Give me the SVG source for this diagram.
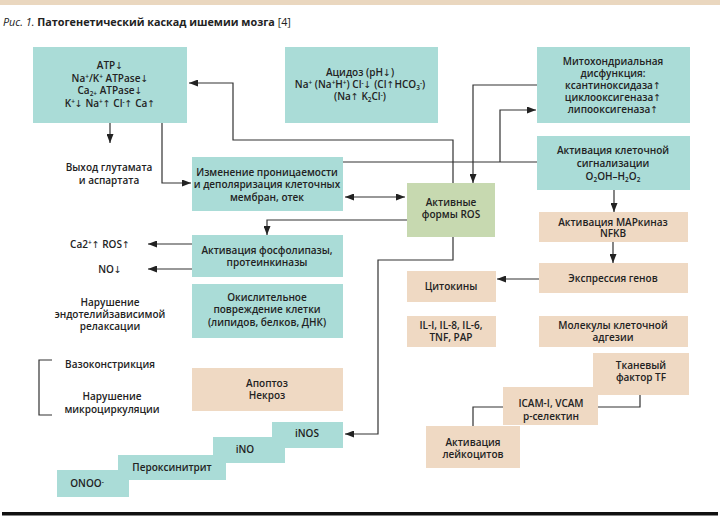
<svg xmlns="http://www.w3.org/2000/svg" width="720" height="518" viewBox="0 0 720 518">
<style>
text{font-family:"Open Sans","Noto Sans",sans-serif;font-size:10px;font-weight:600;fill:#222;text-anchor:middle}
.t{fill:#aadcd7}
.g{fill:#c7d9b0}
.b{fill:#efd9c3}
.c{fill:none;stroke:#333;stroke-width:1.2}
.s{font-size:6.5px}
.ar{font-family:"DejaVu Sans",sans-serif;font-weight:400;font-size:9.5px}
.title{text-anchor:start;font-size:10.8px}
</style>
<defs>
<marker id="a" viewBox="0 0 9 7" refX="9" refY="3.5" markerWidth="9" markerHeight="7" markerUnits="userSpaceOnUse" orient="auto-start-reverse">
<path d="M0,0 L9,3.5 L0,7 z" fill="#222"/>
</marker>
</defs>
<rect x="0" y="0" width="720" height="5" fill="#ead7bf"/>
<text class="title" x="3" y="26"><tspan font-style="italic" font-weight="400">Рис. 1.</tspan> <tspan font-weight="700">Патогенетический каскад ишемии мозга</tspan><tspan font-weight="400"> [4]</tspan></text>

<g id="connectors">
<path class="c" d="M453,183 V140 H233 V83 H189" marker-end="url(#a)"/>
<path class="c" d="M110,123 V143" marker-end="url(#a)"/>
<path class="c" d="M162,123 V183 H191" marker-end="url(#a)"/>
<path class="c" d="M345,197 H405" marker-start="url(#a)" marker-end="url(#a)"/>
<path class="c" d="M537,85 H473 V183" marker-end="url(#a)"/>
<path class="c" d="M343,162 H537"/>
<path class="c" d="M500,162 V110 H536" marker-end="url(#a)"/>
<path class="c" d="M614,190 V212" marker-end="url(#a)"/>
<path class="c" d="M613,242 V263" marker-end="url(#a)"/>
<path class="c" d="M539,279 H497" marker-end="url(#a)"/>
<path class="c" d="M407,220 H267 V235" marker-end="url(#a)"/>
<path class="c" d="M192,244 H148" marker-end="url(#a)"/>
<path class="c" d="M192,269 H148" marker-end="url(#a)"/>
<path class="c" d="M453,237 V260 H378 V434 H345" marker-end="url(#a)"/>
<path class="c" d="M640,395 V407 H598"/>
<path class="c" d="M503,407 H473 V426"/>
<path class="c" d="M52,360 H39 V415 H52"/>
</g>

<g id="atp">
<rect class="t" x="33" y="47" width="154" height="76"/>
<text x="110" y="69">ATP<tspan class="ar">↓</tspan></text>
<text x="110" y="81.5">Na<tspan class="s" baseline-shift="3">+</tspan>/K<tspan class="s" baseline-shift="3">+</tspan> ATPase<tspan class="ar">↓</tspan></text>
<text x="110" y="94">Ca<tspan class="s" baseline-shift="-2">2+</tspan> ATPase<tspan class="ar">↓</tspan></text>
<text x="110" y="106.5">K<tspan class="s" baseline-shift="3">+</tspan><tspan class="ar">↓</tspan> Na<tspan class="s" baseline-shift="3">+</tspan><tspan class="ar">↑</tspan> Cl<tspan class="s" baseline-shift="3">-</tspan><tspan class="ar">↑</tspan> Ca<tspan class="ar">↑</tspan></text>
</g>

<g id="acidosis">
<rect class="t" x="285" y="47" width="153" height="76"/>
<text x="360" y="76">Ацидоз (pH<tspan class="ar">↓</tspan>)</text>
<text x="360" y="88">Na<tspan class="s" baseline-shift="3">+</tspan> (Na<tspan class="s" baseline-shift="3">+</tspan>H<tspan class="s" baseline-shift="3">+</tspan>) Cl<tspan class="s" baseline-shift="3">-</tspan><tspan class="ar">↓</tspan> (Cl<tspan class="ar">↑</tspan>HCO<tspan class="s" baseline-shift="-2">3</tspan><tspan class="s" baseline-shift="3">-</tspan>)</text>
<text x="360" y="100">(Na<tspan class="ar">↑</tspan> K<tspan class="s" baseline-shift="-2">2</tspan>Cl<tspan class="s" baseline-shift="3">-</tspan>)</text>
</g>

<g id="mito">
<rect class="t" x="537" y="47" width="153" height="76"/>
<text x="613" y="65">Митохондриальная</text>
<text x="613" y="77">дисфункция:</text>
<text x="613" y="89">ксантиноксидаза<tspan class="ar">↑</tspan></text>
<text x="613" y="101">циклооксигеназа<tspan class="ar">↑</tspan></text>
<text x="613" y="113">липооксигеназа<tspan class="ar">↑</tspan></text>
</g>

<g id="signal">
<rect class="t" x="537" y="136" width="153" height="54"/>
<text x="613" y="154">Активация клеточной</text>
<text x="613" y="167">сигнализации</text>
<text x="613" y="180">O<tspan class="s" baseline-shift="-2">2</tspan>OH–H<tspan class="s" baseline-shift="-2">2</tspan>O<tspan class="s" baseline-shift="-2">2</tspan></text>
</g>

<g id="perm">
<rect class="t" x="192" y="157" width="151" height="54"/>
<text x="267" y="176">Изменение проницаемости</text>
<text x="267" y="188">и деполяризация клеточных</text>
<text x="267" y="201">мембран, отек</text>
</g>

<g id="ros">
<rect class="g" x="407" y="183" width="88" height="54"/>
<text x="451" y="206">Активные</text>
<text x="451" y="218">формы ROS</text>
</g>

<g id="phospho">
<rect class="t" x="192" y="235" width="151" height="42"/>
<text x="267" y="254">Активация фосфолипазы,</text>
<text x="267" y="266">протеинкиназы</text>
</g>

<g id="oxid">
<rect class="t" x="192" y="284" width="151" height="54"/>
<text x="267" y="301">Окислительное</text>
<text x="267" y="313">повреждение клетки</text>
<text x="267" y="326">(липидов, белков, ДНК)</text>
</g>

<g id="apopt">
<rect class="b" x="192" y="368" width="151" height="43"/>
<text x="267" y="387">Апоптоз</text>
<text x="267" y="399">Некроз</text>
</g>

<g id="map">
<rect class="b" x="539" y="212" width="149" height="30"/>
<text x="613" y="226">Активация MAPкиназ</text>
<text x="613" y="237">NFKB</text>
</g>

<g id="expr">
<rect class="b" x="539" y="263" width="149" height="30"/>
<text x="613" y="282">Экспрессия генов</text>
</g>

<g id="cyto">
<rect class="b" x="407" y="271" width="89" height="31"/>
<text x="451" y="290">Цитокины</text>
</g>

<g id="il">
<rect class="b" x="407" y="316" width="89" height="31"/>
<text x="451" y="329">IL-I, IL-8, IL-6,</text>
<text x="451" y="341">TNF, PAP</text>
</g>

<g id="adh">
<rect class="b" x="539" y="316" width="149" height="31"/>
<text x="613" y="329">Молекулы клеточной</text>
<text x="613" y="341">адгезии</text>
</g>

<g id="tf">
<rect class="b" x="593" y="353" width="96" height="42"/>
<text x="641" y="369">Тканевый</text>
<text x="641" y="381">фактор TF</text>
</g>

<g id="icam">
<rect class="b" x="503" y="387" width="95" height="38"/>
<text x="551" y="407">ICAM-I, VCAM</text>
<text x="551" y="420">p-селектин</text>
</g>

<g id="leuko">
<rect class="b" x="426" y="426" width="94" height="42"/>
<text x="473" y="446">Активация</text>
<text x="473" y="458">лейкоцитов</text>
</g>

<g id="onoo">
<rect class="t" x="57" y="470" width="72" height="27"/>
<text x="87" y="487">ONOO<tspan class="s" baseline-shift="3">-</tspan></text>
</g>
<g id="perox">
<rect class="t" x="118" y="455" width="108" height="25"/>
<text x="172" y="471">Пероксинитрит</text>
</g>
<g id="ino">
<rect class="t" x="213" y="437" width="72" height="26"/>
<text x="245" y="453">iNO</text>
</g>
<g id="inos">
<rect class="t" x="272" y="422" width="71" height="26"/>
<text x="307" y="437">iNOS</text>
</g>

<g id="labels">
<text x="109" y="171">Выход глутамата</text>
<text x="109" y="184">и аспартата</text>
<text x="100" y="248">Ca2<tspan class="s" baseline-shift="3">+</tspan><tspan class="ar">↑</tspan> ROS<tspan class="ar">↑</tspan></text>
<text x="110" y="273">NO<tspan class="ar">↓</tspan></text>
<text x="110" y="306">Нарушение</text>
<text x="110" y="318">эндотелийзависимой</text>
<text x="110" y="330">релаксации</text>
<text x="110" y="368">Вазоконстрикция</text>
<text x="112" y="400">Нарушение</text>
<text x="112" y="413">микроциркуляции</text>
</g>

<rect x="2" y="512" width="716" height="3.5" fill="#111"/>
</svg>
